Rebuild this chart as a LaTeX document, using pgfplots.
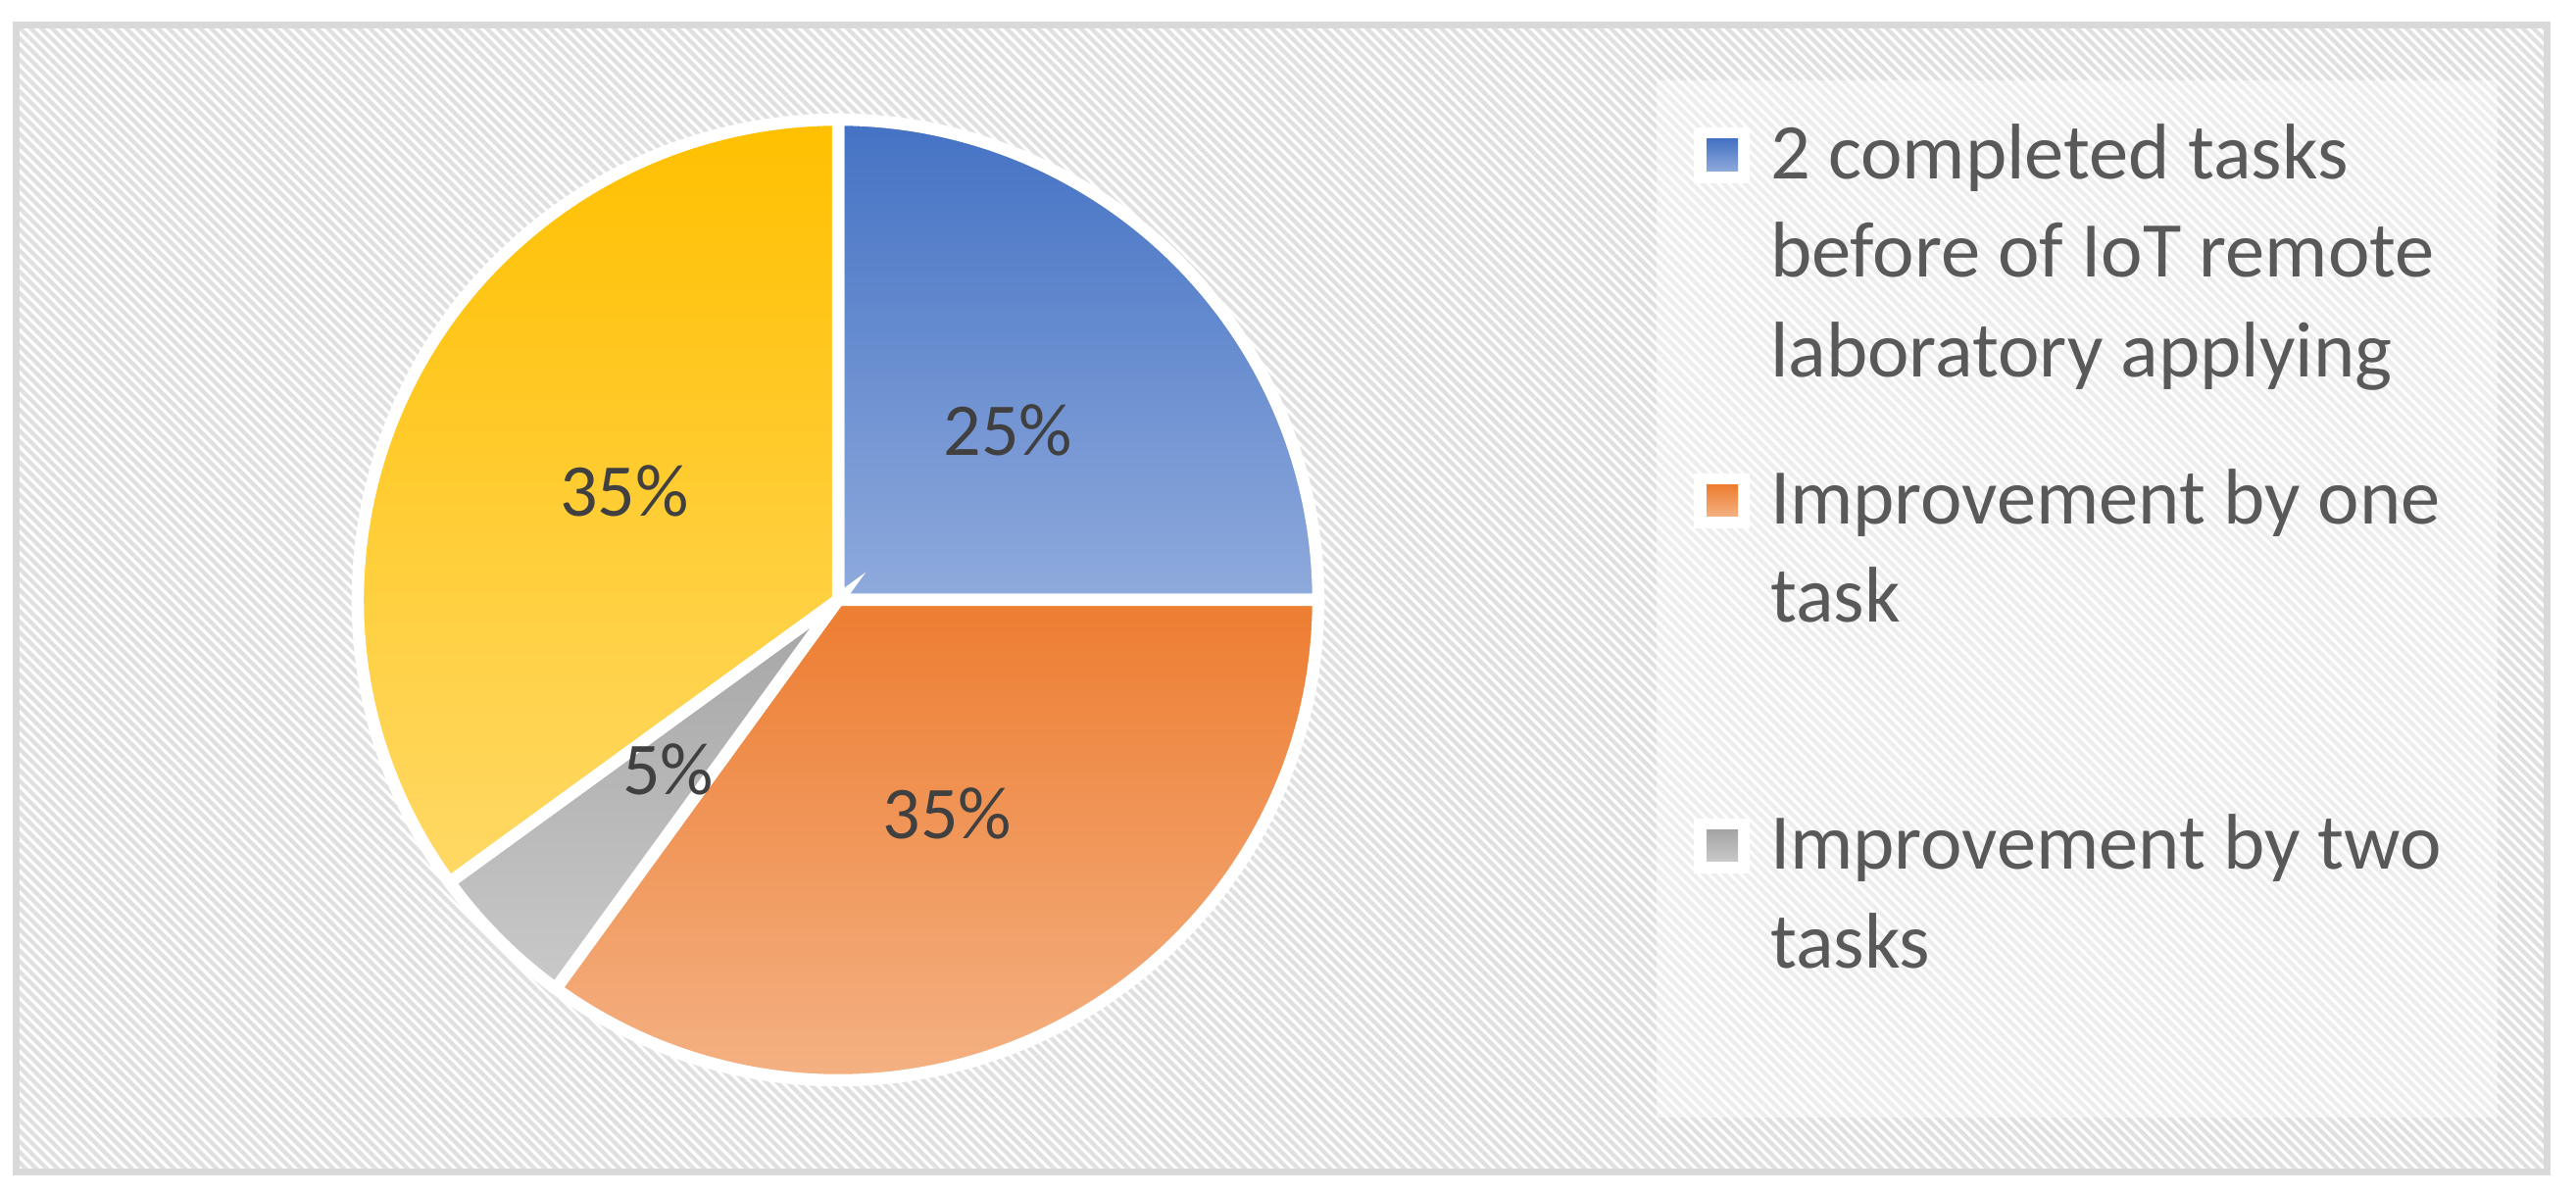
\documentclass[border=0pt]{standalone}
\usepackage{pgfplots}
\usepackage{pgfplotstable}
\pgfplotsset{compat=1.18}
\usepackage{fontspec}
\setmainfont{Carlito}
\usetikzlibrary{patterns.meta}

\definecolor{cBlueT}{HTML}{4472C4}
\definecolor{cBlueB}{HTML}{8FAADC}
\definecolor{cOrangeT}{HTML}{ED7D31}
\definecolor{cOrangeB}{HTML}{F4B183}
\definecolor{cGrayT}{HTML}{A5A5A5}
\definecolor{cGrayB}{HTML}{C9C9C9}
\definecolor{cYellowT}{HTML}{FFC000}
\definecolor{cYellowB}{HTML}{FFD966}
\definecolor{cHatch}{HTML}{E0E0E0}
\definecolor{cFrame}{HTML}{D9D9D9}
\definecolor{cLabel}{HTML}{404040}
\definecolor{cLegend}{HTML}{595959}

% share of each slice, in percent, clockwise from the top
\pgfplotstableread{
value
25
35
5
35
}\piedata

\begin{document}
\begin{tikzpicture}
\pgfplotstablegetelem{0}{value}\of\piedata \let\vA\pgfplotsretval
\pgfplotstablegetelem{1}{value}\of\piedata \let\vB\pgfplotsretval
\pgfplotstablegetelem{2}{value}\of\piedata \let\vC\pgfplotsretval
\pgfplotstablegetelem{3}{value}\of\piedata \let\vD\pgfplotsretval
\pgfmathsetmacro\aA{90}
\pgfmathsetmacro\aB{\aA-3.6*\vA}
\pgfmathsetmacro\aC{\aB-3.6*\vB}
\pgfmathsetmacro\aD{\aC-3.6*\vC}
\pgfmathsetmacro\aE{\aD-3.6*\vD}
\pgfmathsetmacro\mA{(\aA+\aB)/2}
\pgfmathsetmacro\mB{(\aB+\aC)/2}
\pgfmathsetmacro\mC{(\aC+\aD)/2}
\pgfmathsetmacro\mD{(\aD+\aE)/2}

\begin{axis}[
  x=0.2pt, y=0.2pt,
  xmin=0, xmax=2628, ymin=0, ymax=1220,
  scale only axis, hide axis, clip=false,
]
% background, hatched chart area and lighter legend area
\fill[white] (axis cs:0,0) rectangle (axis cs:2628,1220);
\fill[pattern={Lines[angle=-45,distance=1.53pt,line width=0.85pt]},
      pattern color=cHatch]
  (axis cs:16,24) rectangle (axis cs:2598,1194);
\fill[white, fill opacity=0.45] (axis cs:1690,80) rectangle (axis cs:2548,1138);
\draw[cFrame, line width=1.4pt] (axis cs:16,24) rectangle (axis cs:2598,1194);

% ---- slices -------------------------------------------------------------
\path[top color=cBlueT, bottom color=cBlueB, draw=white, line width=2.5pt]
  (axis cs:855,608) -- ++(\aA:98pt) arc[start angle=\aA, end angle=\aB, radius=98pt] -- cycle;
\path[top color=cOrangeT, bottom color=cOrangeB, draw=white, line width=2.5pt]
  (axis cs:855,608) -- ++(\aB:98pt) arc[start angle=\aB, end angle=\aC, radius=98pt] -- cycle;
\path[top color=cGrayT, bottom color=cGrayB, draw=white, line width=2.5pt]
  (axis cs:855,608) -- ++(\aC:98pt) arc[start angle=\aC, end angle=\aD, radius=98pt] -- cycle;
\path[top color=cYellowT, bottom color=cYellowB, draw=white, line width=2.5pt]
  (axis cs:855,608) -- ++(\aD:98pt) arc[start angle=\aD, end angle=\aE, radius=98pt] -- cycle;

% ---- value labels at half radius ---------------------------------------
\begin{scope}[every node/.style={text=cLabel, font=\fontsize{15.2}{18}\selectfont, inner sep=0pt}]
\path (axis cs:855,608) ++(\mA:49pt) node {\vA\%};
\path (axis cs:855,608) ++(\mB:49pt) node {\vB\%};
\path (axis cs:855,608) ++(\mC:49pt) node {\vC\%};
\path (axis cs:855,608) ++(\mD:49pt) node {\vD\%};
\end{scope}

% ---- legend (fourth entry is cut off in the original) ------------------
\fill[white] (axis cs:1728,1033) rectangle (axis cs:1785,1090);
\path[top color=cBlueT, bottom color=cBlueB] (axis cs:1741,1045) rectangle (axis cs:1773,1078);
\fill[white] (axis cs:1728,681) rectangle (axis cs:1785,737);
\path[top color=cOrangeT, bottom color=cOrangeB] (axis cs:1741,693) rectangle (axis cs:1773,725);
\fill[white] (axis cs:1728,329) rectangle (axis cs:1785,385);
\path[top color=cGrayT, bottom color=cGrayB] (axis cs:1741,341) rectangle (axis cs:1773,373);

\begin{scope}[every node/.style={text=cLegend, font=\fontsize{16.1}{20}\selectfont, inner sep=0pt, anchor=base west}]
\node at (axis cs:1805,1037) {2 completed tasks};
\node at (axis cs:1805,937) {before of IoT remote};
\node at (axis cs:1805,835) {laboratory applying};
\node at (axis cs:1805,685) {Improvement by one};
\node at (axis cs:1805,585) {task};
\node at (axis cs:1805,333) {Improvement by two};
\node at (axis cs:1805,233) {tasks};
\end{scope}
\end{axis}
\end{tikzpicture}
\end{document}
